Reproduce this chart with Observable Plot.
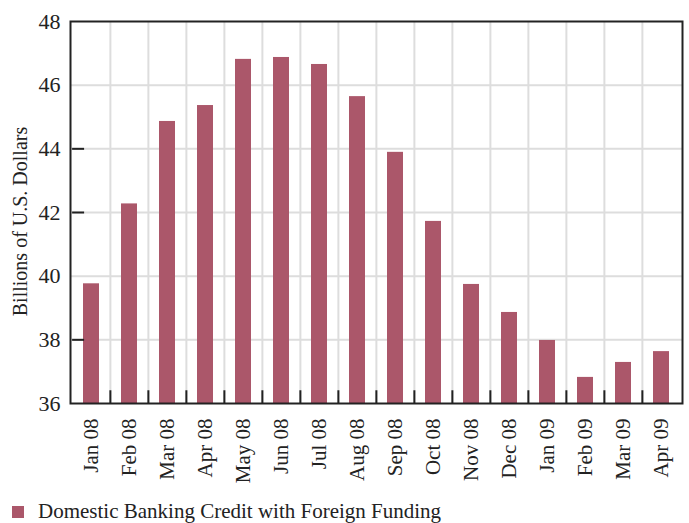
<!DOCTYPE html>
<html>
<head>
<meta charset="utf-8">
<script src="https://cdn.jsdelivr.net/npm/d3@7"></script>
<script src="https://cdn.jsdelivr.net/npm/@observablehq/plot@0.6"></script>
<style>
  html, body { margin: 0; padding: 0; background: #fff; }
  #chart { width: 689px; }
  .legend { display: flex; align-items: center; font-family: "Liberation Serif", serif; font-size: 21px; color: #222; margin-left: 12px; margin-top: 9px; }
  .legend .sw { width: 12px; height: 12px; background: #ab576a; margin-right: 14px; }
</style>
</head>
<body>
<div id="chart"></div>
<script>
const months = ["Jan 08","Feb 08","Mar 08","Apr 08","May 08","Jun 08","Jul 08","Aug 08","Sep 08","Oct 08","Nov 08","Dec 08","Jan 09","Feb 09","Mar 09","Apr 09"];
const values = [39.76,42.27,44.86,45.36,46.81,46.87,46.65,45.64,43.89,41.72,39.74,38.86,37.98,36.82,37.29,37.63];
const yTicks = [36,38,40,42,44,46,48];
const yInnerTicks = [38,42,44];
const seriesName = "Domestic Banking Credit with Foreign Funding";
const yLabel = "Billions of U.S. Dollars";

const data = months.map((m, i) => ({month: m, value: values[i]}));

const W = 689, H = 490, mL = 70, mR = 7, mT = 21, mB = 87;
const plotW = W - mL - mR;
const step = plotW / months.length;
const padOuter = 0.285;
const barColor = "#ab576a";

const plot = Plot.plot({
  width: W, height: H,
  marginLeft: mL, marginRight: mR, marginTop: mT, marginBottom: mB,
  style: {fontFamily: "Liberation Serif, serif", fontSize: "21px", color: "#222", background: "#fff"},
  x: {type: "band", domain: months, paddingInner: 0.57, paddingOuter: padOuter},
  y: {domain: [36, 48]},
  marks: [
    Plot.ruleY(yTicks.slice(1, -1), {stroke: "#dddddd", strokeWidth: 2}),
    Plot.ruleX(months.slice(1), {x: d => d, dx: -step / 2, stroke: "#dddddd", strokeWidth: 2}),
    Plot.barY(data, {x: "month", y1: () => 36, y2: "value", fill: barColor}),
    Plot.ruleX(months.slice(1), {x: d => d, dx: -step / 2, y1: 36, y2: 36.4, stroke: "#222", strokeWidth: 2}),
    Plot.tickY(yInnerTicks, {y: d => d, x: () => months[0], dx: -step * padOuter, insetRight: 4, stroke: "#222", strokeWidth: 2}),
    Plot.axisY(yTicks, {tickSize: 0, tickPadding: 10, fontSize: 22, label: null}),
    Plot.text([yLabel], {frameAnchor: "left", textAnchor: "middle", rotate: -90, dx: -50, dy: 9, fontSize: 20, fill: "#222"}),
    Plot.axisX({tickSize: 0, tickRotate: -90, tickPadding: 15, fontSize: 21, label: null}),
    Plot.frame({stroke: "#222", strokeWidth: 2})
  ]
});
document.getElementById("chart").appendChild(plot);

const legend = document.createElement("div");
legend.className = "legend";
legend.innerHTML = `<div class="sw"></div><span></span>`;
legend.querySelector("span").textContent = seriesName;
document.getElementById("chart").appendChild(legend);
</script>
</body>
</html>
